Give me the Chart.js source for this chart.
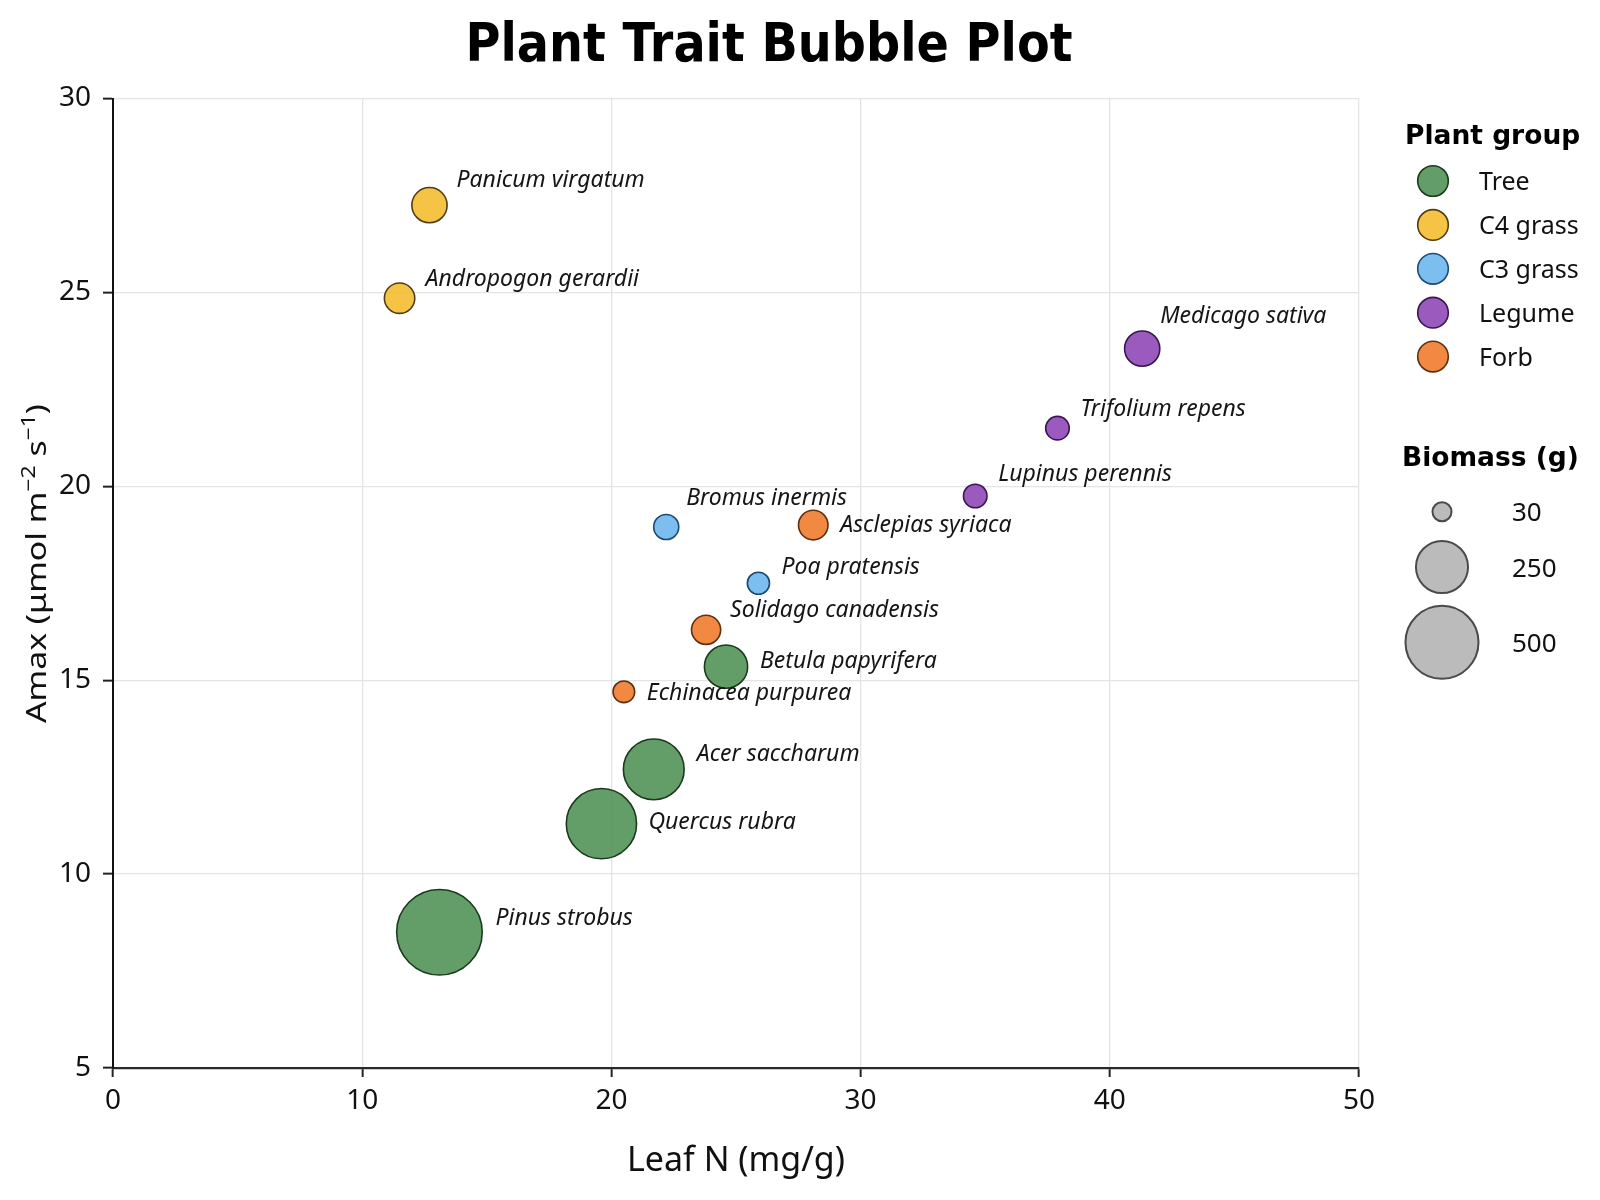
<!DOCTYPE html>
<html><head><meta charset="utf-8">
<script src="https://cdn.jsdelivr.net/npm/chart.js@4.4.1/dist/chart.umd.min.js"></script>
<style>html,body{margin:0;padding:0;background:#fff;} canvas{display:block;}</style>
</head><body>
<canvas id="c" width="1600" height="1200" style="width:1600px;height:1200px"></canvas>
<script>
// ---------------- data ----------------
const chartTitle = 'Plant Trait Bubble Plot';
const xTitle = 'Leaf N (mg/g)';
const groups = ['Tree', 'C4 grass', 'C3 grass', 'Legume', 'Forb'];
const species = ['Pinus strobus', 'Quercus rubra', 'Acer saccharum', 'Betula papyrifera',
  'Panicum virgatum', 'Andropogon gerardii',
  'Bromus inermis', 'Poa pratensis',
  'Medicago sativa', 'Trifolium repens', 'Lupinus perennis',
  'Asclepias syriaca', 'Solidago canadensis', 'Echinacea purpurea'];
const speciesGroup = ['Tree', 'Tree', 'Tree', 'Tree',
  'C4 grass', 'C4 grass',
  'C3 grass', 'C3 grass',
  'Legume', 'Legume', 'Legume',
  'Forb', 'Forb', 'Forb'];
const leafN = [13.1, 19.6, 21.7, 24.6, 12.7, 11.5, 22.2, 25.9, 41.3, 37.9, 34.6, 28.1, 23.8, 20.5];
const amax = [8.5, 11.3, 12.7, 15.35, 27.25, 24.85, 18.95, 17.5, 23.55, 21.5, 19.75, 19.0, 16.3, 14.7];
const biomass = [700, 470, 350, 175, 115, 85, 57, 44, 115, 50, 50, 80, 78, 42];
const sizeLegendValues = [30, 250, 500];
const xTicks = [0, 10, 20, 30, 40, 50];
const yTicks = [5, 10, 15, 20, 25, 30];

// ---------------- styles / layout ----------------
const groupFill = {
  'Tree': 'rgba(72,140,76,0.85)',
  'C4 grass': 'rgba(245,186,35,0.85)',
  'C3 grass': 'rgba(102,179,237,0.85)',
  'Legume': 'rgba(138,61,179,0.85)',
  'Forb': 'rgba(240,116,33,0.85)'
};
const groupEdge = {
  'Tree': '#1d3a1f', 'C4 grass': '#4f3c12', 'C3 grass': '#1f4a70',
  'Legume': '#36184c', 'Forb': '#5e2f10'
};
// label offsets (px) from bubble centre: [dx to text start, dy to baseline]
const labelOffsets = [[56, -7], [47, 5], [43, -8], [34, 1],
  [27, -18], [26, -12],
  [20, -22], [23, -9],
  [18, -26], [23, -12], [23, -15],
  [27, 7], [24, -13], [23, 8]];
const EDGE_W = 1.6;
function visualDiameter(b) { return 3.2 * Math.sqrt(b) + 2.5; }
function radiusFor(b) { return (visualDiameter(b) - EDGE_W) / 2; }

const datasets = groups.map(g => ({
  label: g,
  data: species.map((s, i) => ({ x: leafN[i], y: amax[i], r: radiusFor(biomass[i]), idx: i }))
    .filter(p => speciesGroup[p.idx] === g),
  backgroundColor: groupFill[g],
  borderColor: groupEdge[g],
  borderWidth: EDGE_W,
  hoverRadius: 0
}));

const TICK_FONT = { family: '"Noto Sans"', size: 28 };

const overlay = {
  id: 'overlay',
  afterDatasetsDraw(chart) {
    const ctx = chart.ctx;
    const xs = chart.scales.x, ys = chart.scales.y;
    ctx.save();
    ctx.font = 'italic 23px "Noto Sans"';
    ctx.fillStyle = '#151515';
    ctx.textAlign = 'left';
    ctx.textBaseline = 'alphabetic';
    species.forEach((s, i) => {
      const px = xs.getPixelForValue(leafN[i]);
      const py = ys.getPixelForValue(amax[i]);
      ctx.fillText(s, px + labelOffsets[i][0], py + labelOffsets[i][1]);
    });
    ctx.restore();
  },
  afterDraw(chart) {
    const ctx = chart.ctx;
    const area = chart.chartArea;
    ctx.save();
    // title
    ctx.font = 'bold 54px "DejaVu Sans"';
    const tw = ctx.measureText(chartTitle).width;
    ctx.translate(769, 61);
    ctx.scale(607 / tw, 1);
    ctx.fillStyle = '#000';
    ctx.textAlign = 'center';
    ctx.textBaseline = 'alphabetic';
    ctx.fillText(chartTitle, 0, 0);
    ctx.restore();

    // x title
    ctx.save();
    ctx.font = '34px "Noto Sans"';
    ctx.fillStyle = '#111';
    ctx.textAlign = 'center';
    ctx.textBaseline = 'alphabetic';
    ctx.fillText(xTitle, (area.left + area.right) / 2, 1171);
    ctx.restore();

    // y title with superscripts
    ctx.save();
    const pieces = [['Amax (\u03bcmol m', 0], ['\u22122', 1], [' s', 0], ['\u22121', 1], [')', 0]];
    const nf = '28px "Noto Sans"', sf = '19px "Noto Sans"';
    let total = 0;
    pieces.forEach(p => { ctx.font = p[1] ? sf : nf; total += ctx.measureText(p[0]).width; });
    const targetLen = 319;
    ctx.translate(46, 563.5);
    ctx.rotate(-Math.PI / 2);
    ctx.scale(targetLen / total, 1);
    ctx.fillStyle = '#111';
    ctx.textAlign = 'left';
    ctx.textBaseline = 'alphabetic';
    let cx = -total / 2;
    pieces.forEach(p => {
      ctx.font = p[1] ? sf : nf;
      ctx.fillText(p[0], cx, p[1] ? -11 : 0);
      cx += ctx.measureText(p[0]).width;
    });
    ctx.restore();

    // legend: plant group
    ctx.save();
    ctx.fillStyle = '#000';
    ctx.font = 'bold 26.5px "DejaVu Sans"';
    ctx.textAlign = 'left';
    ctx.textBaseline = 'alphabetic';
    ctx.fillText('Plant group', 1405, 144);
    groups.forEach((g, k) => {
      const cy = 181 + k * 43.9;
      ctx.beginPath();
      ctx.arc(1433, cy, 15.3, 0, Math.PI * 2);
      ctx.fillStyle = groupFill[g];
      ctx.fill();
      ctx.lineWidth = EDGE_W;
      ctx.strokeStyle = groupEdge[g];
      ctx.stroke();
      ctx.fillStyle = '#111';
      ctx.font = '25px "Noto Sans"';
      ctx.fillText(g, 1479, cy + 9);
    });
    // legend: biomass
    ctx.fillStyle = '#000';
    ctx.font = 'bold 26.5px "DejaVu Sans"';
    ctx.fillText('Biomass (g)', 1402, 466);
    const sizeCentres = [511.7, 567, 642.3];
    sizeLegendValues.forEach((v, k) => {
      const cy = sizeCentres[k];
      ctx.beginPath();
      ctx.arc(1442, cy, (visualDiameter(v) - 1) / 2, 0, Math.PI * 2);
      ctx.fillStyle = 'rgba(175,175,175,0.85)';
      ctx.fill();
      ctx.lineWidth = 2;
      ctx.strokeStyle = '#4a4a4a';
      ctx.stroke();
      ctx.fillStyle = '#111';
      ctx.font = '26px "Noto Sans"';
      ctx.fillText(String(v), 1512, cy + 9.5);
    });
    ctx.restore();
  }
};

new Chart(document.getElementById('c'), {
  type: 'bubble',
  data: { datasets },
  options: {
    responsive: false,
    animation: false,
    devicePixelRatio: 1,
    events: [],
    layout: { padding: { top: 98.5, right: 241, bottom: 0, left: 0 } },
    plugins: { legend: { display: false }, title: { display: false }, tooltip: { enabled: false } },
    scales: {
      x: {
        type: 'linear',
        min: xTicks[0], max: xTicks[xTicks.length - 1],
        ticks: { stepSize: xTicks[1] - xTicks[0], font: TICK_FONT, color: '#111', padding: 7, maxRotation: 0 },
        grid: { color: '#e4e4e4', lineWidth: 1.3, tickLength: 9, tickColor: '#222', tickWidth: 2 },
        border: { display: true, color: '#2a2a2a', width: 2.2 },
        afterFit: s => { s.height = 132; }
      },
      y: {
        type: 'linear',
        min: yTicks[0], max: yTicks[yTicks.length - 1],
        ticks: { stepSize: yTicks[1] - yTicks[0], font: TICK_FONT, color: '#111', padding: 12 },
        grid: { color: '#e4e4e4', lineWidth: 1.3, tickLength: 10, tickColor: '#222', tickWidth: 2 },
        border: { display: true, color: '#111', width: 2 },
        afterFit: s => { s.width = 113; }
      }
    }
  },
  plugins: [overlay]
});
</script>
</body></html>
